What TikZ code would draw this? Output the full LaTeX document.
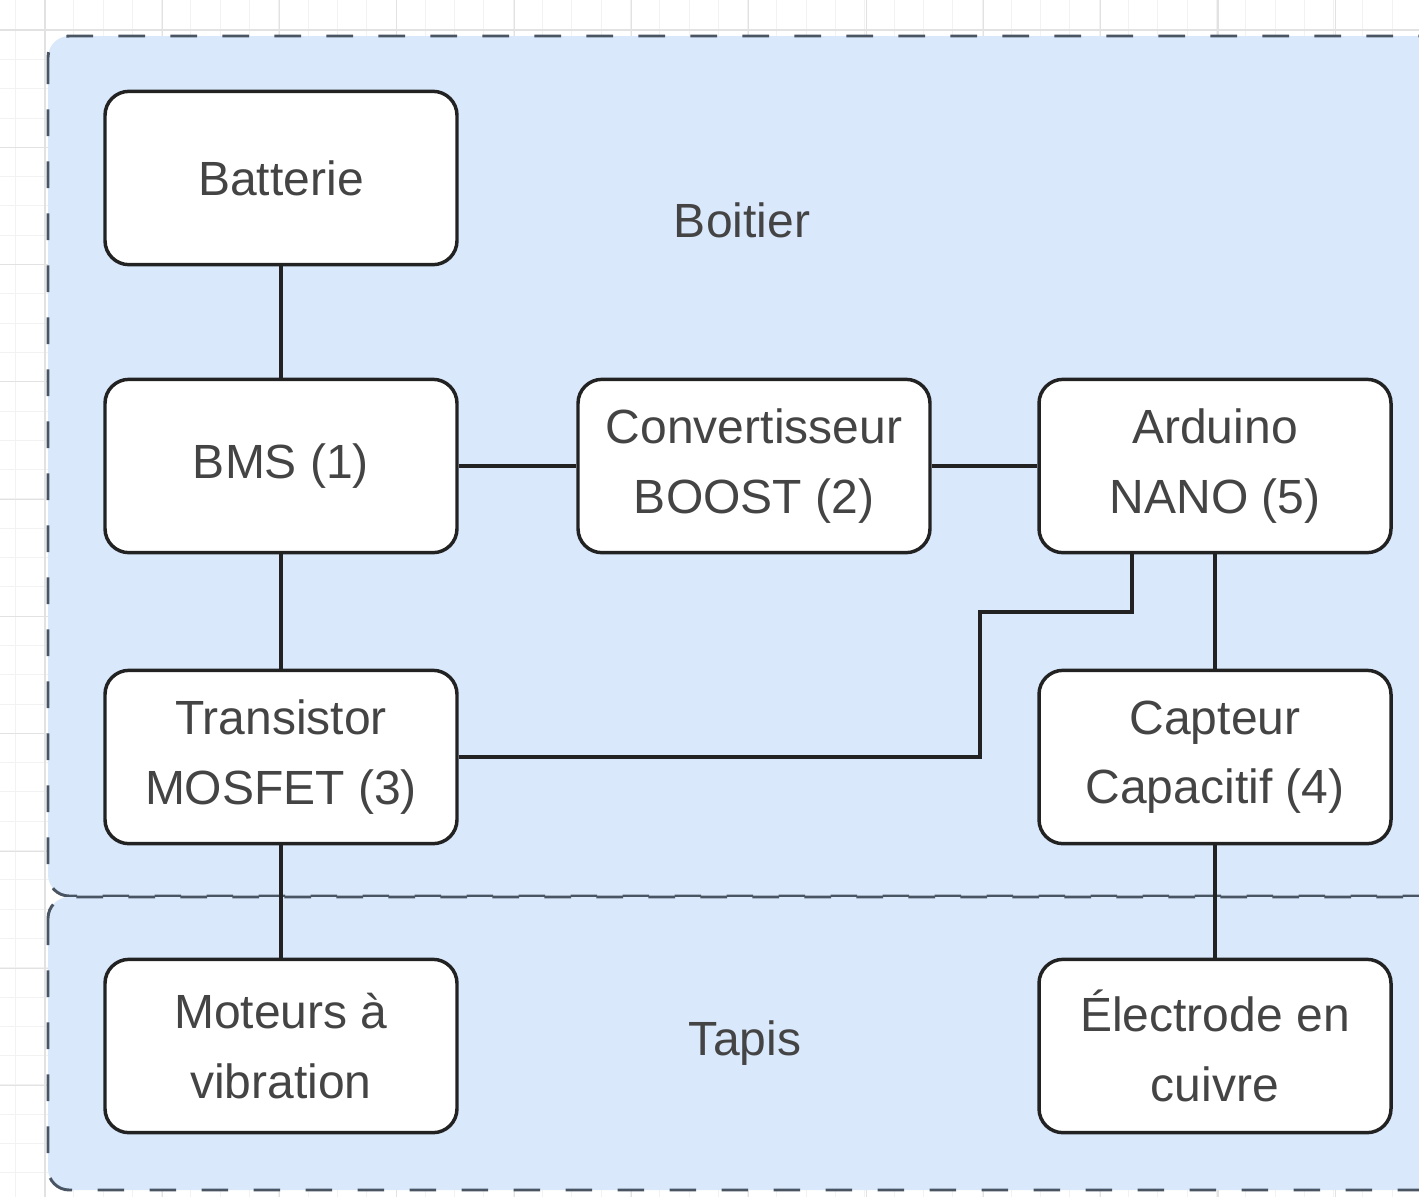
\documentclass[tikz,border=0pt]{standalone}
\usepackage{fontspec}
\setmainfont{Liberation Sans}
\definecolor{fillblue}{HTML}{DAE8FC}
\definecolor{contline}{HTML}{4A5563}
\definecolor{boxline}{HTML}{222222}
\definecolor{txt}{HTML}{444444}
\definecolor{gridminor}{HTML}{F2F2F2}
\definecolor{gridmajor}{HTML}{E2E2E2}
\tikzset{
  box/.style={draw=boxline, line width=2.6pt, fill=white, rounded corners=18pt,
    minimum width=264pt, minimum height=130pt, align=center, text=txt,
    font=\fontsize{36}{52}\selectfont, inner sep=2pt},
  cont/.style={draw=contline, line width=2.2pt, fill=fillblue, rounded corners=16pt,
    dash pattern=on 20pt off 19pt},
  lbl/.style={text=txt, font=\fontsize{36}{52}\selectfont},
  wire/.style={draw=boxline, line width=2.6pt}
}
\begin{document}
\begin{tikzpicture}[x=0.75pt,y=-0.75pt]
\useasboundingbox (0,0) rectangle (1419,1197);
\clip (0,0) rectangle (1419,1197);
\fill[white] (0,0) rectangle (1419,1197);
% grid
\foreach \i in {0,...,49} {
  \draw[gridminor, line width=0.6pt] ({15+\i*29.3},0) -- ({15+\i*29.3},1197);
  \draw[gridminor, line width=0.6pt] (0,{30+\i*29.3}) -- (1419,{30+\i*29.3});
}
\foreach \i in {0,...,12} {
  \draw[gridmajor, line width=0.8pt] ({45+\i*117.3},0) -- ({45+\i*117.3},1197);
  \draw[gridmajor, line width=0.8pt] (0,{30+\i*117.3}) -- (1419,{30+\i*117.3});
}
% containers
\path[cont] (48,36) rectangle (1445,896);
\path[cont] (48,897) rectangle (1445,1190);
\node[lbl] (boitier) at (742,220) {Boitier};
\node[lbl] (tapis) at (745,1043) {Tapis};
% nodes
\node[box] (bat) at (281,178) {Batterie};
\node[box] (bms) at (281,466) {BMS (1)};
\node[box] (conv) at (754,466) {Convertisseur\\BOOST (2)};
\node[box] (ard) at (1215,466) {Arduino\\NANO (5)};
\node[box] (mos) at (281,757) {Transistor\\MOSFET (3)};
\node[box] (cap) at (1215,757) {Capteur\\Capacitif (4)};
\node[box] (mot) at (281,1046) {Moteurs à\\vibration};
\node[box] (elec) at (1215,1046) {Électrode en\\cuivre};
\coordinate (k1) at (980,612);
\coordinate (k2) at (1132,612);
% connectors
\draw[wire] (bat) -- (bms);
\draw[wire] (bms) -- (conv);
\draw[wire] (conv) -- (ard);
\draw[wire] (bms) -- (mos);
\draw[wire] (mos) -- (mot);
\draw[wire] (ard) -- (cap);
\draw[wire] (cap) -- (elec);
\draw[wire] (mos.east) -- (mos.east -| k1) -- (k1) -- (k2) -- (k2 |- ard.south);
\end{tikzpicture}
\end{document}
